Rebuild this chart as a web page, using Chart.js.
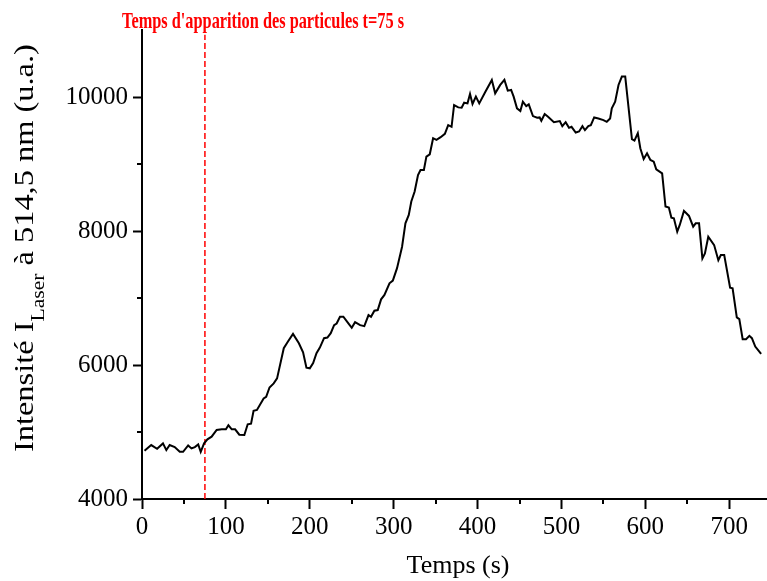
<!DOCTYPE html>
<html lang="fr">
<head>
<meta charset="utf-8">
<title>Intensité laser</title>
<script src="https://cdn.jsdelivr.net/npm/chart.js@4/dist/chart.umd.min.js"></script>
<style>
  html, body { margin: 0; padding: 0; background: #fff; }
  #chart { display: block; }
</style>
</head>
<body>
<canvas id="chart" width="767" height="581"></canvas>
<script>
// Temps (s) et intensité laser mesurée
const times = [3, 11, 18, 25, 29, 33, 39, 45, 49, 55, 59, 63, 67, 70, 74, 78, 83, 89, 95, 100,
  103, 107, 111, 116, 122, 126, 130, 133, 137, 145, 148, 152, 157, 161, 169, 174, 180, 187, 192, 196,
  200, 204, 208, 212, 217, 221, 225, 229, 232, 236, 240, 246, 250, 254, 260, 265, 270, 273, 277, 281,
  285, 289, 295, 299, 304, 310, 314, 318, 321, 325, 329, 332, 336, 339, 343, 347, 351, 356, 361, 365,
  369, 372, 377, 381, 384, 388, 391, 394, 398, 402, 409, 417, 421, 427, 432, 436, 440, 443, 447, 451,
  454, 458, 461, 466, 471, 474, 476, 480, 484, 491, 498, 501, 505, 509, 512, 517, 521, 525, 528, 532,
  535, 539, 544, 550, 554, 558, 560, 564, 568, 572, 576, 584, 587, 591, 594, 598, 602, 606, 610, 613,
  620, 624, 628, 631, 634, 638, 641, 646, 652, 657, 660, 664, 668, 671, 675, 682, 687, 690, 694, 701,
  704, 709, 712, 716, 720, 724, 727, 731, 738];
const intensity = [4720, 4805, 4750, 4830, 4730, 4805, 4775, 4705, 4705, 4800, 4755, 4775, 4815, 4705, 4830, 4890, 4930, 5030, 5040, 5040,
  5100, 5040, 5040, 4960, 4955, 5115, 5125, 5315, 5330, 5500, 5525, 5665, 5725, 5800, 6250, 6350, 6465, 6325, 6190, 5960,
  5950, 6030, 6175, 6260, 6400, 6410, 6475, 6595, 6620, 6720, 6720, 6620, 6555, 6640, 6595, 6580, 6745, 6720, 6810, 6820,
  6980, 7045, 7220, 7260, 7445, 7765, 8115, 8240, 8440, 8590, 8835, 8910, 8910, 9110, 9145, 9385, 9360, 9400, 9450, 9580,
  9555, 9880, 9845, 9840, 9915, 9905, 10045, 9895, 10005, 9905, 10070, 10255, 10055, 10180, 10255, 10095, 10105, 10005, 9830, 9790,
  9930, 9865, 9890, 9715, 9690, 9695, 9645, 9745, 9705, 9625, 9640, 9565, 9625, 9540, 9555, 9470, 9485, 9565, 9505, 9565,
  9580, 9695, 9680, 9655, 9630, 9680, 9830, 9930, 10180, 10305, 10305, 9370, 9350, 9460, 9235, 9075, 9160, 9060, 9035, 8920,
  8860, 8365, 8350, 8200, 8190, 7990, 8090, 8300, 8225, 8065, 8115, 8115, 7590, 7665, 7915, 7790, 7565, 7640, 7640, 7155,
  7145, 6710, 6685, 6385, 6385, 6435, 6400, 6275, 6165];

// Instant d'apparition des particules (s)
const particleTime = 75;

// Axes et graduations
const xMin = 0, xMax = 745;
const yMin = 4000, yMax = 11000;
const xTicks = [0, 100, 200, 300, 400, 500, 600, 700];
const yTicks = [4000, 6000, 8000, 10000];
const xMinorTicks = [50, 150, 250, 350, 450, 550, 650];
const yMinorTicks = [5000, 7000, 9000];

const serif = "'Liberation Serif', 'Times New Roman', serif";

// petites graduations intermédiaires, et titres (l'axe Y a un indice)
const decorations = {
  id: 'decorations',
  afterDraw(chart) {
    const { ctx, chartArea, scales } = chart;
    ctx.save();
    ctx.strokeStyle = '#000';
    ctx.lineWidth = 2;
    ctx.beginPath();
    xMinorTicks.forEach(v => {
      const px = Math.round(scales.x.getPixelForValue(v));
      ctx.moveTo(px, chartArea.bottom);
      ctx.lineTo(px, chartArea.bottom + 5);
    });
    yMinorTicks.forEach(v => {
      const py = Math.round(scales.y.getPixelForValue(v));
      ctx.moveTo(chartArea.left, py);
      ctx.lineTo(chartArea.left - 5, py);
    });
    ctx.stroke();

    // titre rouge
    ctx.fillStyle = '#ff0000';
    ctx.font = 'bold 24px ' + serif;
    ctx.textBaseline = 'alphabetic';
    ctx.textAlign = 'left';
    ctx.save();
    ctx.translate(122, 28);
    ctx.scale(0.68, 1);
    ctx.fillText(`Temps d'apparition des particules t=${particleTime} s`, 0, 0);
    ctx.restore();

    // titre de l'axe X
    ctx.fillStyle = '#000';
    ctx.font = '26px ' + serif;
    ctx.textAlign = 'center';
    ctx.fillText('Temps (s)', 458, 573);

    // titre de l'axe Y, vertical
    ctx.textAlign = 'left';
    ctx.save();
    ctx.translate(33, 452);
    ctx.rotate(-Math.PI / 2);
    ctx.scale(1.2, 1);
    const parts = [
      { text: 'Intensité I', size: 27, dy: 0 },
      { text: 'Laser', size: 18, dy: 11 },
      { text: ' à 514,5 nm (u.a.)', size: 27, dy: 0 }
    ];
    let x = 0;
    parts.forEach(p => {
      ctx.font = p.size + 'px ' + serif;
      ctx.fillText(p.text, x, p.dy);
      x += ctx.measureText(p.text).width;
    });
    ctx.restore();
    ctx.restore();
  }
};

const axisStyle = (values, min, max, tickLength, padding) => ({
  type: 'linear',
  min: min,
  max: max,
  afterBuildTicks: scale => { scale.ticks = values.map(v => ({ value: v })); },
  ticks: {
    color: '#000',
    padding: padding,
    font: { family: serif, size: 25 },
    callback: v => String(v)
  },
  grid: {
    drawOnChartArea: false,
    drawTicks: true,
    tickLength: tickLength,
    tickColor: '#000',
    tickWidth: 2
  },
  border: { display: true, color: '#000', width: 2 }
});

const xScale = axisStyle(xTicks, xMin, xMax, 10, 3);
xScale.afterFit = scale => { scale.height = 82; };
const yScale = axisStyle(yTicks, yMin, yMax, 9, 5);
yScale.afterFit = scale => { scale.width = 142; };

new Chart(document.getElementById('chart'), {
  type: 'line',
  data: {
    datasets: [
      {
        data: times.map((t, i) => ({ x: t, y: intensity[i] })),
        borderColor: '#000',
        borderWidth: 2,
        pointRadius: 0,
        tension: 0
      },
      {
        data: [{ x: particleTime, y: yMin }, { x: particleTime, y: 10930 }],
        borderColor: '#ff0000',
        borderWidth: 1.5,
        borderDash: [6, 3],
        pointRadius: 0
      }
    ]
  },
  options: {
    responsive: false,
    animation: false,
    layout: { padding: { top: 30, right: 0, left: 0, bottom: 0 } },
    plugins: {
      legend: { display: false },
      tooltip: { enabled: false }
    },
    scales: { x: xScale, y: yScale }
  },
  plugins: [decorations]
});
</script>
</body>
</html>
